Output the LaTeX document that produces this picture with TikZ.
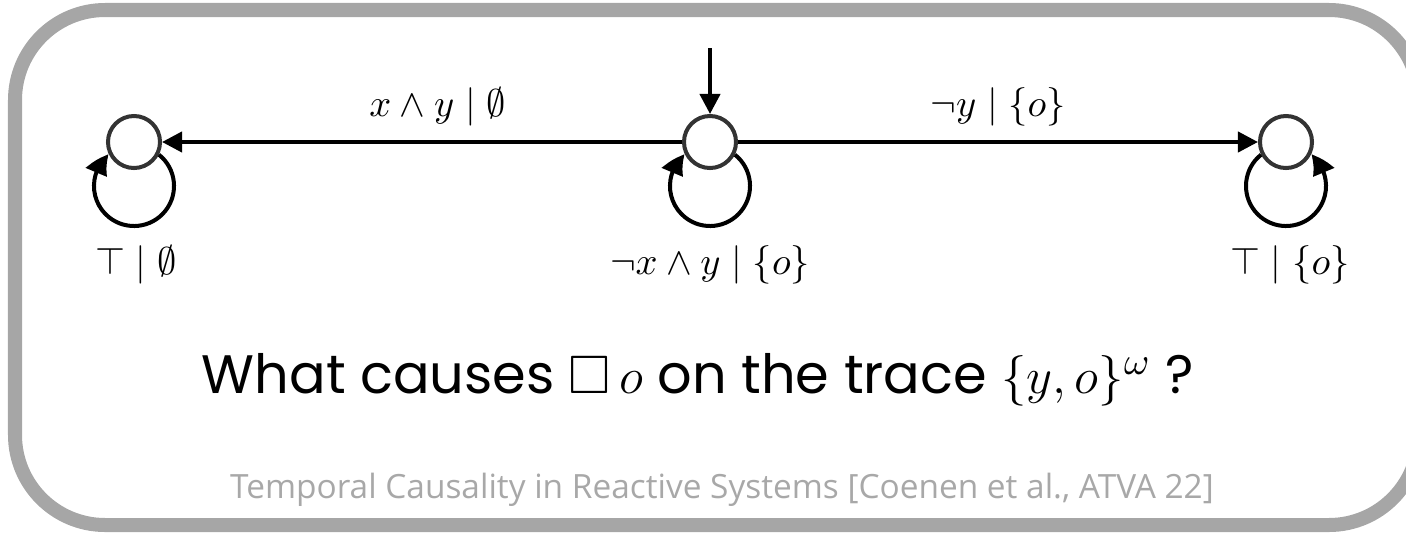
\documentclass[tikz,border=0pt]{standalone}
\usepackage{amssymb}
\usepackage{fontspec}
\newfontfamily\mainsans{Poppins}
\newfontfamily\citesans{Open Sans}
\usetikzlibrary{arrows.meta,bending}
\definecolor{framegray}{RGB}{166,166,166}
\definecolor{citegray}{RGB}{168,168,168}
\definecolor{statedark}{RGB}{51,51,51}
\begin{document}
\begin{tikzpicture}[x=0.01cm,y=-0.01cm,
  state/.style={circle, draw=statedark, line width=0.04cm, minimum size=0.52cm, inner sep=0pt, fill=white},
  trans/.style={line width=0.04cm, -{Triangle[length=0.2cm,width=0.2cm]}},
  looptrans/.style={line width=0.04cm, -{Triangle[length=0.22cm,width=0.22cm,bend]}},
  lbl/.style={font=\fontsize{10.5}{12}\selectfont, inner sep=0pt},
  frame/.style={line width=0.14cm, draw=framegray, rounded corners=0.9cm}]
\useasboundingbox (0,0) rectangle (1406,533);
\begin{scope}
  \clip (0,0) rectangle (1406,533);
  \draw[frame] (15,10) rectangle (1419,525);
\end{scope}

% states
\node[state] (l) at (134,142) {};
\node[state] (c) at (710,142) {};
\node[state] (r) at (1286,142) {};
\coordinate (init) at (710,48);

% initial arrow
\draw[trans] (init) -- (c);

% transitions
\draw[trans] (c) -- node[lbl, pos=0.47, anchor=base, yshift=0.25cm] {$x \wedge y \mid \emptyset$} (l);
\draw[trans] (c) -- node[lbl, pos=0.5, anchor=base, yshift=0.25cm] {$\neg y \mid \{o\}$} (r);

% self loops
\draw[looptrans] (l.-27) arc[start angle=51.4, end angle=-231.4, radius=0.4cm];
\draw[looptrans] (c.-27) arc[start angle=51.4, end angle=-231.4, radius=0.4cm];
\draw[looptrans] (r.207) arc[start angle=128.6, end angle=411.4, radius=0.4cm];

% loop labels
\node[lbl, anchor=base] (ll) at (136,274) {$\top \mid \emptyset$};
\node[lbl, anchor=base] (cl) at (710,274) {$\neg x \wedge y \mid \{o\}$};
\node[lbl, anchor=base] (rl) at (1290,274) {$\top \mid \{o\}$};

% question
\node[anchor=base, inner sep=0pt, font=\mainsans\fontsize{15.4}{18}\selectfont] (q) at (698,393)
  {What causes $\Box\, o$ on the trace $\{y, o\}^{\omega}$ ?};

% citation
\node[anchor=base, inner sep=0pt, text=citegray, font=\citesans\fontsize{9.5}{12}\selectfont] (cite) at (722,498)
  {Temporal Causality in Reactive Systems [Coenen et al., ATVA 22]};
\end{tikzpicture}
\end{document}
